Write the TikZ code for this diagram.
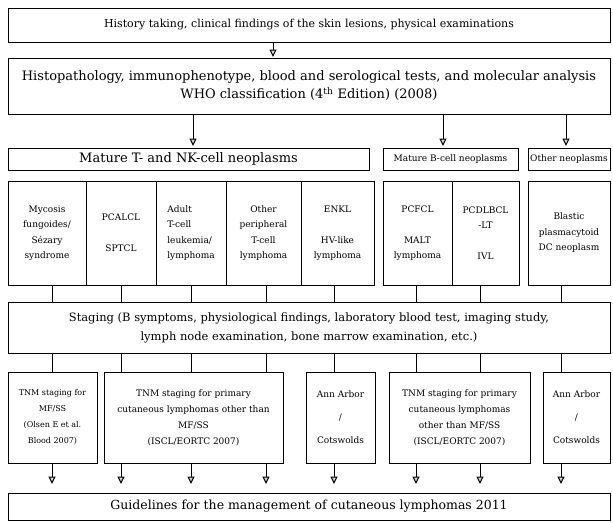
\documentclass[tikz,border=0pt]{standalone}
\usepackage{fontspec}
\setmainfont{DejaVu Serif}
\usepackage{tikz}
\usetikzlibrary{calc}
\usetikzlibrary{arrows.meta}

\begin{document}
\begin{tikzpicture}[x=1pt,y=-1pt,
    box/.style={draw, line width=1pt, inner sep=0pt, outer sep=0pt, anchor=north west, align=center},
    link/.style={line width=1pt},
    arrow/.style={line width=1pt, -{Triangle[length=7.5pt, width=7pt, fill=gray!35]}},
    bigtext/.style={font=\fontsize{13}{18}\selectfont},
    midtext/.style={font=\fontsize{11.5}{19}\selectfont},
    celltext/.style={font=\fontsize{9}{15.5}\selectfont},
    smalltext/.style={font=\fontsize{9}{16}\selectfont}
  ]
  \useasboundingbox (0,0) rectangle (613,522);

  % columns used by the links
  \foreach \n/\x in {1/52,2/121,3/191,4/266,5/334,6/416,7/480,8/561}
    \coordinate (c\n) at (\x,0);
  \foreach \n/\x in {0/273,1/193,2/443,3/566}
    \coordinate (a\n) at (\x,0);

  % top boxes
  \node[box, minimum width=602pt, minimum height=34pt, font=\fontsize{11}{13}\selectfont] (hist) at (8,8)
    {History taking, clinical findings of the skin lesions, physical examinations};
  \node[box, bigtext, minimum width=602pt, minimum height=56pt] (histo) at (8,58)
    {Histopathology, immunophenotype, blood and serological tests, and molecular analysis\\
     WHO classification (4\textsuperscript{th} Edition) (2008)};

  % groups
  \node[box, bigtext, minimum width=361pt, minimum height=22pt] (tnk) at (8,148)
    {Mature T- and NK-cell neoplasms};
  \node[box, minimum width=135pt, minimum height=22pt, font=\fontsize{9}{10}\selectfont] (bcell) at (383,148)
    {Mature B-cell neoplasms};
  \node[box, minimum width=82pt, minimum height=22pt, font=\fontsize{9}{10}\selectfont] (other) at (528,148)
    {Other neoplasms};

  % diseases
  \node[box, celltext, minimum width=78pt, minimum height=104pt] (mf) at (8,181)
    {Mycosis\\fungoides/\\S\'ezary\\syndrome};
  \node[box, celltext, minimum width=70pt, minimum height=104pt] (pcalcl) at (86,181)
    {PCALCL\\[15.5pt]SPTCL};
  \node[box, celltext, minimum width=70pt, minimum height=104pt, align=left] (atll) at (156,181)
    {Adult\\T-cell\\leukemia/\\lymphoma};
  \node[box, celltext, minimum width=75pt, minimum height=104pt] (ptcl) at (226,181)
    {Other\\peripheral\\T-cell\\lymphoma};
  \node[box, celltext, minimum width=73pt, minimum height=104pt] (enkl) at (301,181)
    {ENKL\\[15.5pt]HV-like\\lymphoma};
  \node[box, celltext, minimum width=69pt, minimum height=104pt] (pcfcl) at (383,181)
    {PCFCL\\[15.5pt]MALT\\lymphoma};
  \node[box, celltext, minimum width=67pt, minimum height=104pt] (pcdlbcl) at (452,181)
    {PCDLBCL\\-LT\\[15.5pt]IVL};
  \node[box, celltext, minimum width=82pt, minimum height=104pt] (bpdcn) at (528,181)
    {Blastic\\plasmacytoid\\DC neoplasm};

  % staging
  \node[box, midtext, minimum width=602pt, minimum height=51pt] (staging) at (8,302)
    {Staging (B symptoms, physiological findings, laboratory blood test, imaging study,\\
     lymph node examination, bone marrow examination, etc.)};

  \node[box, font=\fontsize{8}{16}\selectfont, minimum width=89pt, minimum height=91pt] (tnmmf) at (8,372)
    {TNM staging for\\MF/SS\\(Olsen E et al.\\Blood 2007)};
  \node[box, smalltext, minimum width=179pt, minimum height=91pt] (tnmpcl) at (104,372)
    {TNM staging for primary\\cutaneous lymphomas other than\\MF/SS\\(ISCL/EORTC 2007)};
  \node[box, minimum width=69pt, minimum height=91pt, font=\fontsize{9}{23}\selectfont] (annarbor) at (306,372)
    {Ann Arbor\\/\\Cotswolds};
  \node[box, smalltext, minimum width=141pt, minimum height=91pt] (tnmb) at (389,372)
    {TNM staging for primary\\cutaneous lymphomas\\other than MF/SS\\(ISCL/EORTC 2007)};
  \node[box, minimum width=67pt, minimum height=91pt, font=\fontsize{9}{23}\selectfont] (annarbortwo) at (543,372)
    {Ann Arbor\\/\\Cotswolds};

  \node[box, font=\fontsize{12.5}{14}\selectfont, minimum width=602pt, minimum height=27pt] (guide) at (8,493)
    {Guidelines for the management of cutaneous lymphomas 2011};

  % links
  \draw[arrow, shorten >=1pt] (a0 |- hist.south) -- (a0 |- histo.north);
  \draw[arrow, shorten >=2pt] (a1 |- histo.south) -- (a1 |- tnk.north);
  \draw[arrow, shorten >=2pt] (a2 |- histo.south) -- (a2 |- bcell.north);
  \draw[arrow, shorten >=2pt] (a3 |- histo.south) -- (a3 |- other.north);

  \foreach \b/\c in {mf/c1,pcalcl/c2,atll/c3,ptcl/c4,enkl/c5,pcfcl/c6,pcdlbcl/c7,bpdcn/c8}
    \draw[link] (\c |- \b.south) -- (\c |- staging.north);

  \foreach \b/\c in {tnmmf/c1,tnmpcl/c2,tnmpcl/c3,tnmpcl/c4,annarbor/c5,tnmb/c6,tnmb/c7,annarbortwo/c8} {
    \draw[link] (\c |- staging.south) -- (\c |- \b.north);
    \draw[arrow, shorten >=9pt] (\c |- \b.south) -- (\c |- guide.north);
  }
\end{tikzpicture}
\end{document}
